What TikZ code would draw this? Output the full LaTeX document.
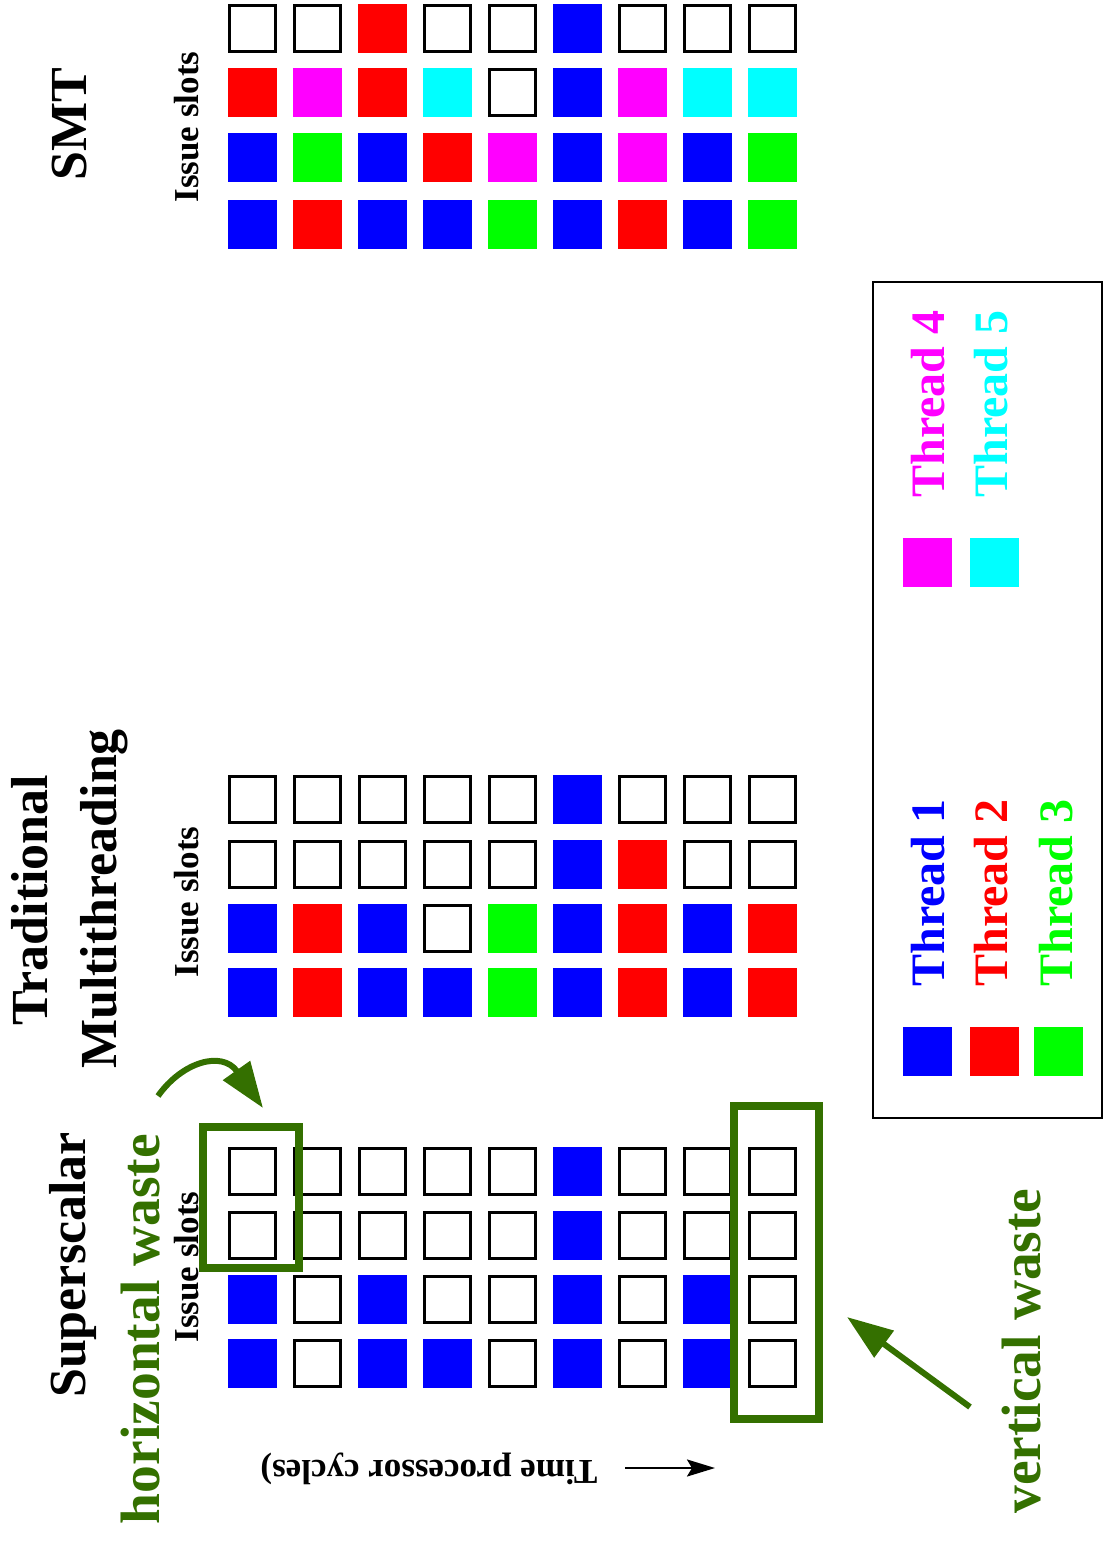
\documentclass[tikz,border=0pt]{standalone}
\usepackage{fontspec}
\setmainfont{Liberation Serif}
\usetikzlibrary{arrows.meta}
\definecolor{wgreen}{RGB}{52,112,0}
\definecolor{tblue}{RGB}{0,0,255}
\definecolor{tred}{RGB}{255,0,0}
\definecolor{tgreen}{RGB}{0,255,0}
\definecolor{tmag}{RGB}{255,0,255}
\definecolor{tcyan}{RGB}{0,255,255}
\begin{document}
\begin{tikzpicture}[x=1pt,y=-1pt,
  slotE/.style={draw=black,line width=3pt,minimum size=46pt,inner sep=0pt,outer sep=0pt},
  slotF/.style={minimum size=49pt,inner sep=0pt,outer sep=0pt},
  slotB/.style={slotF,fill=tblue},
  slotR/.style={slotF,fill=tred},
  slotG/.style={slotF,fill=tgreen},
  slotM/.style={slotF,fill=tmag},
  slotC/.style={slotF,fill=tcyan},
  title/.style={font=\fontsize{52}{58}\selectfont\bfseries,rotate=90,inner sep=0pt},
  wastelabel/.style={font=\fontsize{55.5}{62}\selectfont\bfseries,text=wgreen,rotate=90,inner sep=0pt},
  issuelabel/.style={font=\fontsize{35}{40}\selectfont\bfseries,rotate=90,inner sep=0pt},
  threadlabel/.style={font=\fontsize{48}{53}\selectfont\bfseries,rotate=90,inner sep=0pt},
  wastebox/.style={draw=wgreen,line width=8pt,inner sep=0pt},
  wastearrow/.style={draw=wgreen,line width=6pt,-{Triangle[length=46pt,width=32pt]}}
]
\useasboundingbox (0,0) rectangle (1104,1541);

% ---------- Superscalar grid ----------
\foreach \a/\b/\c/\d [count=\i from 0] in
  {E/E/B/B, E/E/E/E, E/E/B/B, E/E/E/B, E/E/E/E, B/B/B/B, E/E/E/E, E/E/B/B, E/E/E/E}{
  \pgfmathsetmacro\xx{252.5+65*\i}
  \node[slot\a] (ss-\i-0) at (\xx,1171.5) {};
  \node[slot\b] (ss-\i-1) at (\xx,1235.5) {};
  \node[slot\c] (ss-\i-2) at (\xx,1299.5) {};
  \node[slot\d] (ss-\i-3) at (\xx,1363.5) {};
}

% ---------- Traditional multithreading grid ----------
\foreach \a/\b/\c/\d [count=\i from 0] in
  {E/E/B/B, E/E/R/R, E/E/B/B, E/E/E/B, E/E/G/G, B/B/B/B, E/R/R/R, E/E/B/B, E/E/R/R}{
  \pgfmathsetmacro\xx{252.5+65*\i}
  \node[slot\a] (mt-\i-0) at (\xx,799.5) {};
  \node[slot\b] (mt-\i-1) at (\xx,864.5) {};
  \node[slot\c] (mt-\i-2) at (\xx,928.5) {};
  \node[slot\d] (mt-\i-3) at (\xx,992.5) {};
}

% ---------- SMT grid ----------
\foreach \a/\b/\c/\d [count=\i from 0] in
  {E/R/B/B, E/M/G/R, R/R/B/B, E/C/R/B, E/E/M/G, B/B/B/B, E/M/M/R, E/C/B/B, E/C/G/G}{
  \pgfmathsetmacro\xx{252.5+65*\i}
  \node[slot\a] (smt-\i-0) at (\xx,28.5) {};
  \node[slot\b] (smt-\i-1) at (\xx,92.5) {};
  \node[slot\c] (smt-\i-2) at (\xx,157.5) {};
  \node[slot\d] (smt-\i-3) at (\xx,224.5) {};
}

% ---------- titles ----------
\node[title] (tss) at (72.5,1265) {Superscalar};
\node[title] (ttrad) at (30,900) {Traditional};
\node[title] (tmulti) at (104,899) {Multithreading};
\node[title] (tsmt) at (70,124) {SMT};

\node[issuelabel] (iss) at (186.5,1267) {Issue slots};
\node[issuelabel] (imt) at (186.5,902) {Issue slots};
\node[issuelabel] (ismt) at (186.5,127) {Issue slots};

\node[wastelabel] (hw) at (140.5,1329) {horizontal waste};
\node[wastelabel] (vw) at (1022,1351) {vertical waste};

% ---------- waste boxes ----------
\node[wastebox,minimum width=96pt,minimum height=141pt] (hbox) at (250.5,1197.5) {};
\node[wastebox,minimum width=85pt,minimum height=313pt] (vbox) at (776.5,1262.5) {};

% ---------- waste arrows ----------
\coordinate (hwtail) at (158,1096);
\coordinate (hwtip) at (263,1108);
\draw[wastearrow] (hwtail) .. controls (182,1062) and (222,1050) .. (hwtip);
\coordinate (vwtail) at (970,1407);
\coordinate (vwtip) at (847,1317);
\draw[wastearrow] (vwtail) -- (vwtip);

% ---------- time axis ----------
\node[font=\fontsize{35}{40}\selectfont\bfseries,rotate=180,inner sep=0pt] (time) at (429,1469) {Time processor cycles)};
\coordinate (tstart) at (625,1468);
\coordinate (tend) at (715,1468);
\draw[line width=2.5pt,-{Stealth[length=28pt,width=17pt,inset=5pt]}] (tstart) -- (tend);

% ---------- legend ----------
\node[draw=black,line width=2.5pt,minimum width=229pt,minimum height=836pt,inner sep=0pt] (legend) at (987.5,700) {};
\node[slotB] (lg1) at (927.5,1051.5) {};
\node[slotR] (lg2) at (994.5,1051.5) {};
\node[slotG] (lg3) at (1058.5,1051.5) {};
\node[slotM] (lg4) at (927.5,562) {};
\node[slotC] (lg5) at (994.5,562) {};
\node[threadlabel,text=tblue] (lt1) at (928.5,893) {Thread 1};
\node[threadlabel,text=tred] (lt2) at (991.5,893) {Thread 2};
\node[threadlabel,text=tgreen] (lt3) at (1056.5,893) {Thread 3};
\node[threadlabel,text=tmag] (lt4) at (928.5,404) {Thread 4};
\node[threadlabel,text=tcyan] (lt5) at (991.5,404) {Thread 5};
\end{tikzpicture}
\end{document}
